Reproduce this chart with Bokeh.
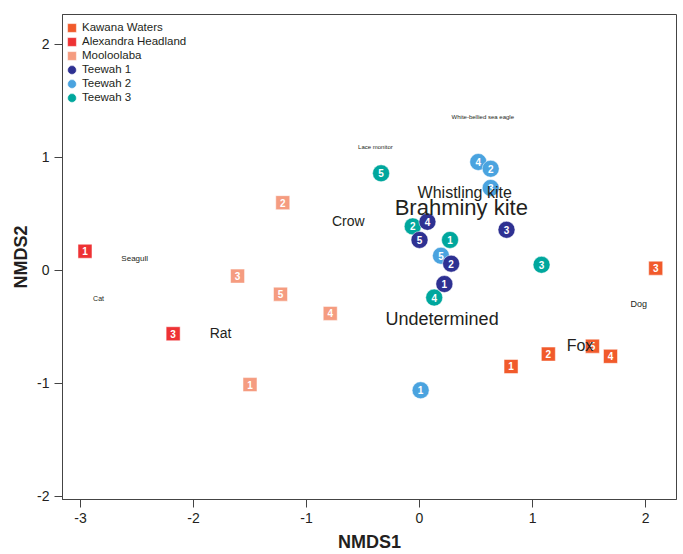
from bokeh.plotting import figure
from bokeh.models import ColumnDataSource, FixedTicker, Legend, LegendItem, Range1d
from bokeh.core.properties import value
from bokeh.embed import file_html
from bokeh.resources import INLINE

# ---- data ----
kawana_x = [0.81, 1.14, 2.09, 1.69, 1.53]
kawana_y = [-0.85, -0.74, 0.02, -0.76, -0.67]
kawana_n = ["1", "2", "3", "4", "5"]

alex_x = [-2.96, -2.18]
alex_y = [0.17, -0.56]
alex_n = ["1", "3"]

mool_x = [-1.50, -1.21, -1.61, -0.79, -1.23]
mool_y = [-1.01, 0.60, -0.05, -0.38, -0.21]
mool_n = ["1", "2", "3", "4", "5"]

t1_x = [0.22, 0.28, 0.77, 0.07, 0.00]
t1_y = [-0.12, 0.06, 0.36, 0.43, 0.27]
t1_n = ["1", "2", "3", "4", "5"]

t2_x = [0.01, 0.52, 0.63, 0.63, 0.19]
t2_y = [-1.06, 0.96, 0.73, 0.90, 0.13]
t2_n = ["1", "4", "3", "2", "5"]

t3_x = [0.27, -0.06, 1.08, 0.13, -0.34]
t3_y = [0.27, 0.39, 0.05, -0.24, 0.86]
t3_n = ["1", "2", "3", "4", "5"]

species = ["White-bellied sea eagle", "Lace monitor", "Whistling kite", "Brahminy kite",
           "Crow", "Undetermined", "Fox", "Dog", "Seagull", "Cat", "Rat"]
species_x = [0.56, -0.39, 0.40, 0.37, -0.63, 0.20, 1.42, 1.94, -2.52, -2.84, -1.76]
species_y = [1.36, 1.09, 0.69, 0.56, 0.44, -0.43, -0.66, -0.30, 0.11, -0.25, -0.55]
species_size = ["6px", "6px", "16px", "22px", "14px", "18px", "16px", "9px", "8px", "7px", "14px"]

x_ticks = [-3, -2, -1, 0, 1, 2]
x_tick_labels = ["-3", "-2", "-1", "0", "1", "2"]
y_ticks = [-2, -1, 0, 1, 2]
y_tick_labels = ["-2", "-1", "0", "1", "2"]

FONT = "Liberation Sans"

p = figure(width=683, height=554, output_backend="svg", toolbar_location=None,
           x_range=Range1d(-3.159, 2.274), y_range=Range1d(-2.027, 2.265),
           min_border_left=62, min_border_right=7, min_border_top=14, min_border_bottom=55)
p.xgrid.visible = False
p.ygrid.visible = False
p.outline_line_color = "#444444"
p.outline_line_width = 1
p.background_fill_color = "white"

for ax in (p.xaxis[0], p.yaxis[0]):
    ax.axis_line_color = "#444444"
    ax.major_tick_line_color = "#444444"
    ax.minor_tick_line_color = None
    ax.major_tick_in = 0
    ax.major_tick_out = 8
    ax.major_label_text_font = FONT
    ax.major_label_text_font_size = "14px"
    ax.major_label_text_color = "#231f20"
    ax.axis_label_text_font = FONT
    ax.axis_label_text_font_size = "18px"
    ax.axis_label_text_font_style = "bold"
    ax.axis_label_text_color = "#231f20"

p.xaxis.ticker = FixedTicker(ticks=x_ticks)
p.yaxis.ticker = FixedTicker(ticks=y_ticks)
p.xaxis.major_label_overrides = dict(zip(x_ticks, x_tick_labels))
p.yaxis.major_label_overrides = dict(zip(y_ticks, y_tick_labels))
p.xaxis.axis_label = "NMDS1"
p.yaxis.axis_label = "NMDS2"
p.xaxis.major_label_standoff = 5
p.xaxis.axis_label_standoff = 6
p.yaxis.major_label_standoff = 5
p.yaxis.axis_label_standoff = 3

series = [
    ("Kawana Waters", kawana_x, kawana_y, kawana_n, "#F15A2B", "square", 14),
    ("Alexandra Headland", alex_x, alex_y, alex_n, "#EE3234", "square", 14),
    ("Mooloolaba", mool_x, mool_y, mool_n, "#F59C80", "square", 14),
    ("Teewah 2", t2_x, t2_y, t2_n, "#4AA3DF", "circle", 17),
    ("Teewah 3", t3_x, t3_y, t3_n, "#00A79D", "circle", 17),
    ("Teewah 1", t1_x, t1_y, t1_n, "#2E3192", "circle", 17),
]

renderers = {}
for name, xs, ys, ns, col, marker, size in series:
    src = ColumnDataSource(dict(x=xs, y=ys, n=ns))
    if marker == "square":
        r = p.rect("x", "y", width=size, height=size, width_units="screen",
                   height_units="screen", source=src, fill_color=col,
                   line_color="white", line_width=0.5)
    else:
        r = p.ellipse("x", "y", width=size, height=size, width_units="screen",
                      height_units="screen", source=src, fill_color=col,
                      line_color="white", line_width=0.5)
    renderers[name] = r
    p.text("x", "y", text="n", source=src, text_color="white",
           text_font=value(FONT), text_font_style="bold", text_font_size="10px",
           text_align="center", text_baseline="middle")

sp = ColumnDataSource(dict(x=species_x, y=species_y, t=species, s=species_size))
p.text("x", "y", text="t", source=sp, text_font_size="s", text_color="#231f20",
       text_font=value(FONT), text_align="center", text_baseline="middle")

order = ["Kawana Waters", "Alexandra Headland", "Mooloolaba", "Teewah 1", "Teewah 2", "Teewah 3"]
legend = Legend(items=[LegendItem(label=nm, renderers=[renderers[nm]]) for nm in order],
                location=(4, 396))
legend.border_line_color = None
legend.background_fill_alpha = 0
legend.margin = 0
legend.padding = 0
legend.glyph_width = 11
legend.glyph_height = 11
legend.label_height = 11
legend.spacing = 2
legend.label_standoff = 5
legend.label_text_font = FONT
legend.label_text_font_size = "11.5px"
legend.label_text_color = "#231f20"
legend.label_text_baseline = "middle"
p.add_layout(legend)

open("out.html", "w").write(file_html(p, INLINE))
